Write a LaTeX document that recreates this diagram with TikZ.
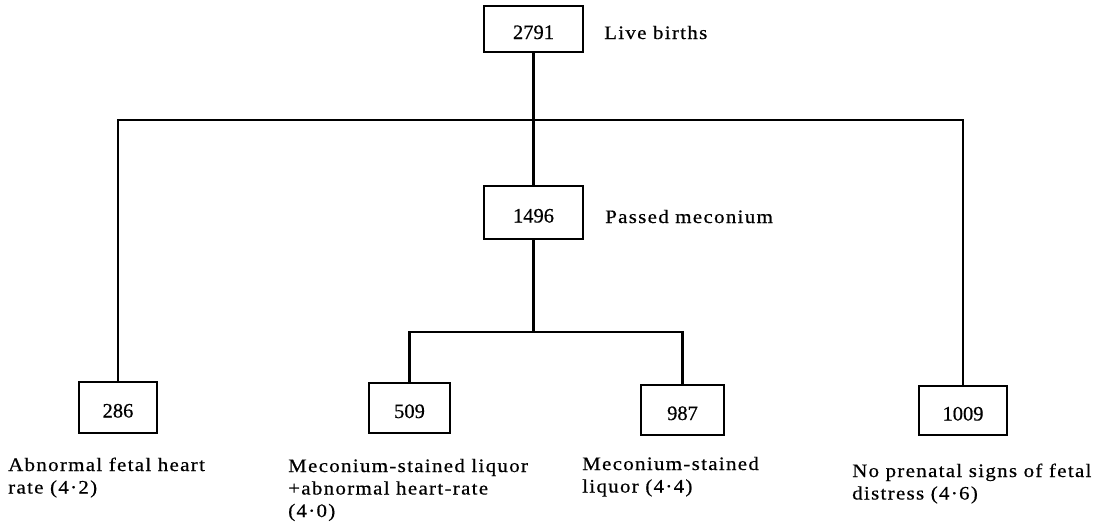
\documentclass[tikz,border=0pt]{standalone}
\usepackage{fontspec}
\setmainfont{Liberation Serif}
\newfontfamily\lblfont[FakeStretch=1.1,LetterSpace=7,FakeBold=0.6]{Liberation Serif}
\newfontfamily\numfont[FakeBold=0.6]{Liberation Serif}
\begin{document}
\begin{tikzpicture}[x=1pt,y=-1pt,
  numbox/.style={draw,line width=2.8pt,inner sep=0pt,text height=20pt,text depth=0pt,
    font=\numfont\fontsize{20.5}{22}\selectfont},
  lbl/.style={anchor=base west,inner sep=0pt,font=\lblfont\fontsize{19}{22.5}\selectfont},
  conn/.style={line width=2.8pt}]
\useasboundingbox (0,0) rectangle (1110,523);
% boxes
\node[numbox,minimum width=99pt,minimum height=46pt] (b2791) at (533.5,29) {2791};
\node[numbox,minimum width=99pt,minimum height=53pt] (b1496) at (533.5,212.5) {1496};
\node[numbox,minimum width=78pt,minimum height=51pt] (b286) at (118,407.5) {286};
\node[numbox,minimum width=81pt,minimum height=50pt] (b509) at (409.5,408) {509};
\node[numbox,minimum width=83pt,minimum height=50pt] (b987) at (682.5,410) {987};
\node[numbox,minimum width=88pt,minimum height=49pt] (b1009) at (963,410.5) {1009};
% junctions
\coordinate (j1) at (533.5,120);
\coordinate (j2) at (533.5,332);
% connectors
\draw[conn] (b2791.south) -- (b1496.north);
\draw[conn] (b286.north) |- (j1) -| (b1009.north);
\draw[conn] (b1496.south) -- (j2);
\draw[conn] (b509.north) |- (j2) -| (b987.north);
% labels
\node[lbl] (tlive) at (604,39) {Live births};
\node[lbl] (tpass) at (605,223) {Passed meconium};
\node[lbl] (t286) at (8,471) {\begin{tabular}[t]{@{}l@{}}Abnormal fetal heart\\ rate (4·2)\end{tabular}};
\node[lbl] (t509) at (288,472) {\begin{tabular}[t]{@{}l@{}}Meconium-stained liquor\\ +abnormal heart-rate\\ (4·0)\end{tabular}};
\node[lbl] (t987) at (582,470) {\begin{tabular}[t]{@{}l@{}}Meconium-stained\\ liquor (4·4)\end{tabular}};
\node[lbl] (t1009) at (852,477) {\begin{tabular}[t]{@{}l@{}}No prenatal signs of fetal\\ distress (4·6)\end{tabular}};
\end{tikzpicture}
\end{document}
